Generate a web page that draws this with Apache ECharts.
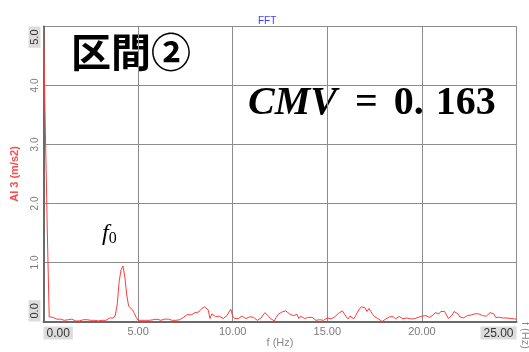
<!DOCTYPE html>
<html>
<head>
<meta charset="utf-8">
<script src="https://cdn.jsdelivr.net/npm/echarts@6/dist/echarts.min.js"></script>
<style>
  html, body { margin: 0; padding: 0; background: #fff; }
  #chart { width: 529px; height: 352px; }
</style>
</head>
<body>
<div id="chart"></div>
<script>
// FFT amplitude spectrum, AI 3 channel, 0.1 Hz bins from 0 to 25 Hz
const freqStep = 0.1;

// 0.0 - 4.9 Hz (includes the f0 peak near 4.2 Hz)
const amp0to5 = [
  5.0, 3.2, 1.55, 0.08, 0.07, 0.07, 0.06, 0.04, 0.03, 0.04,
  0.03, 0.02, 0.04, 0.03, 0.05, 0.04, 0.03, 0.01, 0.02, 0.01,
  0.02, 0.03, 0.04, 0.03, 0.03, 0.02, 0.01, 0.02, 0.01, 0.01,
  0.01, 0.02, 0.01, 0.02, 0.04, 0.06, 0.05, 0.06, 0.11, 0.30,
  0.68, 0.88, 0.94, 0.75, 0.45, 0.26, 0.23, 0.20, 0.14, 0.07
];
// 5.0 - 9.9 Hz
const amp5to10 = [
  0.02, 0.01, 0.02, 0.01, 0.02, 0.01, 0.02, 0.02, 0.03, 0.05,
  0.04, 0.04, 0.02, 0.03, 0.04, 0.03, 0.04, 0.02, 0.02, 0.03,
  0.02, 0.02, 0.03, 0.05, 0.07, 0.09, 0.12, 0.13, 0.11, 0.13,
  0.15, 0.13, 0.16, 0.20, 0.22, 0.25, 0.27, 0.20, 0.05, 0.13,
  0.12, 0.08, 0.05, 0.09, 0.07, 0.05, 0.07, 0.10, 0.16, 0.21
];
// 10.0 - 14.9 Hz
const amp10to15 = [
  0.09, 0.05, 0.04, 0.05, 0.07, 0.09, 0.10, 0.05, 0.06, 0.08,
  0.11, 0.07, 0.05, 0.02, 0.01, 0.06, 0.09, 0.15, 0.13, 0.09,
  0.05, 0.02, 0.01, 0.07, 0.12, 0.15, 0.16, 0.13, 0.18, 0.16,
  0.13, 0.16, 0.10, 0.11, 0.12, 0.05, 0.09, 0.07, 0.05, 0.045,
  0.07, 0.10, 0.07, 0.045, 0.02, 0.0, 0.03, 0.04, 0.02, 0.04
];
// 15.0 - 19.9 Hz
const amp15to20 = [
  0.06, 0.05, 0.045, 0.07, 0.08, 0.11, 0.14, 0.16, 0.18, 0.20,
  0.08, 0.045, 0.09, 0.07, 0.045, 0.10, 0.16, 0.21, 0.25, 0.27,
  0.23, 0.17, 0.22, 0.17, 0.12, 0.08, 0.06, 0.045, 0.02, 0.0,
  0.03, 0.045, 0.06, 0.08, 0.11, 0.08, 0.045, 0.07, 0.085, 0.06,
  0.045, 0.05, 0.06, 0.045, 0.045, 0.045, 0.045, 0.05, 0.07, 0.075
];
// 20.0 - 25.0 Hz
const amp20to25 = [
  0.09, 0.08, 0.10, 0.08, 0.07, 0.10, 0.11, 0.15, 0.16, 0.13,
  0.17, 0.19, 0.17, 0.11, 0.05, 0.07, 0.11, 0.17, 0.19, 0.13,
  0.08, 0.05, 0.06, 0.09, 0.10, 0.10, 0.11, 0.12, 0.13, 0.13,
  0.13, 0.12, 0.10, 0.09, 0.09, 0.11, 0.15, 0.18, 0.13, 0.07,
  0.05, 0.07, 0.06, 0.06, 0.07, 0.06, 0.045, 0.05, 0.055, 0.045,
  0.035
];

const xTicks = [0, 5, 10, 15, 20, 25];
const yTicks = [0, 1, 2, 3, 4, 5];

const amplitude = [].concat(amp0to5, amp5to10, amp10to15, amp15to20, amp20to25);
const spectrum = amplitude.map((v, i) => [Number((i * freqStep).toFixed(1)), v]);

const chart = echarts.init(document.getElementById('chart'), null, { renderer: 'canvas' });

const sansFont = '"Liberation Sans", Arial, sans-serif';
const mathFont = '"Liberation Serif", "DejaVu Serif", serif';

chart.setOption({
  animation: false,
  backgroundColor: '#ffffff',
  title: {
    text: 'FFT',
    left: 253,
    top: 11,
    textStyle: { color: '#3b3bff', fontSize: 10, fontWeight: 'normal', fontFamily: sansFont }
  },
  grid: {
    left: 43.5,
    right: 12.5,
    top: 26.5,
    bottom: 30.5,
    outerBoundsMode: 'none',
    containLabel: false,
    show: true,
    borderColor: '#9a9a9a',
    borderWidth: 1
  },
  xAxis: {
    type: 'value',
    min: xTicks[0],
    max: xTicks[xTicks.length - 1],
    interval: 5,
    name: 'f (Hz)',
    nameLocation: 'middle',
    nameGap: 16,
    nameMoveOverlap: false,
    nameTextStyle: { color: '#8a8a8a', fontSize: 11, fontFamily: sansFont },
    axisLine: { show: true, lineStyle: { color: '#6a6a6a', width: 2 } },
    axisTick: { show: false },
    splitLine: { show: true, lineStyle: { color: '#8c8c8c', width: 1 } },
    axisLabel: {
      margin: 5,
      alignMinLabel: 'left',
      alignMaxLabel: 'right',
      formatter: (v) => {
        const s = v.toFixed(2);
        return (v === xTicks[0] || v === xTicks[xTicks.length - 1]) ? '{edge|' + s + '}' : s;
      },
      color: '#7a7a7a',
      fontSize: 11,
      fontFamily: sansFont,
      rich: {
        edge: {
          color: '#333333',
          fontSize: 12,
          fontFamily: sansFont,
          backgroundColor: '#dcdcdc',
          padding: [1, 3, 0, 3]
        }
      }
    }
  },
  yAxis: {
    type: 'value',
    min: yTicks[0],
    max: yTicks[yTicks.length - 1],
    interval: 1,
    name: 'AI 3 (m/s2)',
    nameLocation: 'middle',
    nameGap: 23,
    nameRotate: 90,
    nameMoveOverlap: false,
    nameTextStyle: { color: '#ff4a4a', fontSize: 11, fontWeight: 'bold', fontFamily: sansFont },
    axisLine: { show: true, lineStyle: { color: '#6a6a6a', width: 2 } },
    axisTick: { show: false },
    splitLine: { show: true, lineStyle: { color: '#8c8c8c', width: 1 } },
    axisLabel: {
      rotate: 90,
      margin: 3,
      alignMinLabel: 'left',
      alignMaxLabel: 'right',
      formatter: (v) => {
        const s = v.toFixed(1);
        return (v === yTicks[0] || v === yTicks[yTicks.length - 1]) ? '{edge|' + s + '}' : s;
      },
      color: '#7a7a7a',
      fontSize: 10,
      fontFamily: sansFont,
      rich: {
        edge: {
          color: '#333333',
          fontSize: 11,
          fontFamily: sansFont,
          backgroundColor: '#dcdcdc',
          padding: [1, 3, 0, 3]
        }
      }
    }
  },
  series: [{
    type: 'line',
    data: spectrum,
    showSymbol: false,
    clip: true,
    lineStyle: { color: '#ff3b3b', width: 1 },
    emphasis: { disabled: true }
  }],
  graphic: [
    {
      type: 'text',
      left: 71,
      top: 32,
      style: {
        text: '区間②',
        font: 'bold 40px "Noto Sans CJK JP", sans-serif',
        fill: '#000000'
      }
    },
    {
      type: 'text',
      left: 248,
      top: 84,
      style: {
        text: '{it|CMV}{op|=}{num|0.}{num2|163}',
        rich: {
          it: { font: 'italic bold 40px ' + mathFont, fill: '#000' },
          op: { font: 'bold 40px ' + mathFont, fill: '#000', padding: [0, 16, 0, 18] },
          num: { font: 'bold 40px ' + mathFont, fill: '#000' },
          num2: { font: 'bold 40px ' + mathFont, fill: '#000', padding: [0, 0, 0, 12] }
        }
      }
    },
    {
      type: 'text',
      left: 102,
      top: 222,
      style: {
        text: '{f|f}{sub|0}',
        rich: {
          f: { font: 'italic 24px "Liberation Serif", serif', fill: '#000' },
          sub: { font: '16px "Liberation Serif", serif', fill: '#000', padding: [10, 0, 0, 0] }
        }
      }
    },
    {
      type: 'text',
      x: 531,
      y: 322,
      rotation: -Math.PI / 2,
      style: {
        text: 'f (Hz)',
        font: '11px "Liberation Sans", sans-serif',
        fill: '#8a8a8a'
      }
    }
  ]
});
</script>
</body>
</html>
